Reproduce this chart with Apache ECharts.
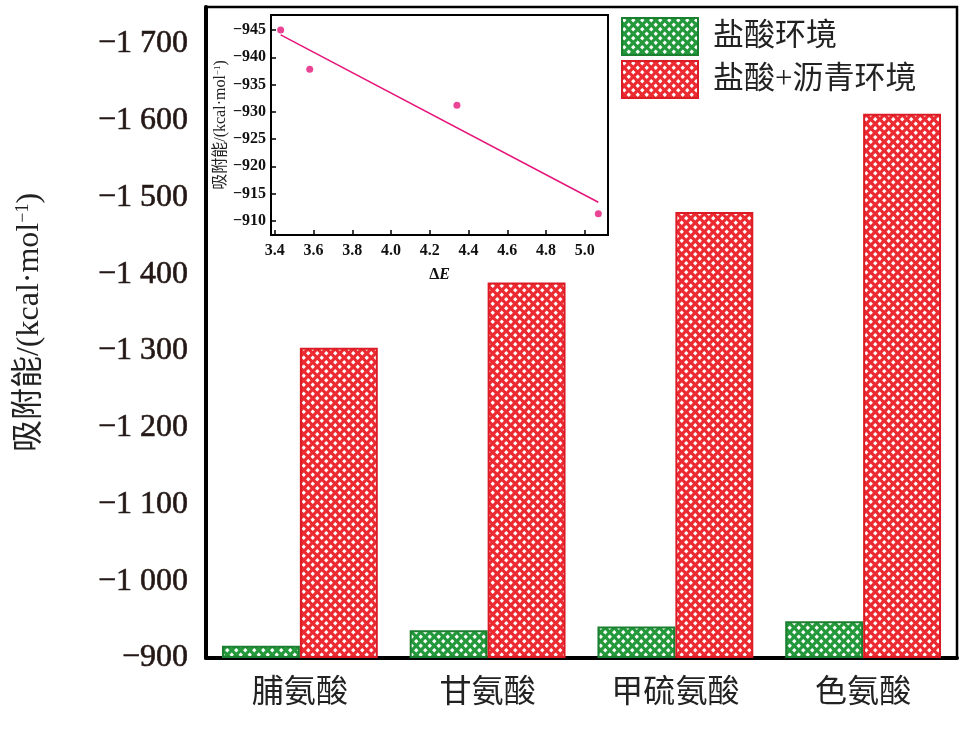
<!DOCTYPE html>
<html>
<head>
<meta charset="utf-8">
<script src="https://cdn.jsdelivr.net/npm/echarts@6/dist/echarts.min.js"></script>
<style>
html, body { margin: 0; padding: 0; background: #fff; }
#chart { width: 975px; height: 731px; }
</style>
</head>
<body>
<div id="chart"></div>
<script>
const categories = ['脯氨酸', '甘氨酸', '甲硫氨酸', '色氨酸'];
const legendNames = ['盐酸环境', '盐酸+沥青环境'];
const hclValues = [-916, -936, -941, -948];
const hclAsphaltValues = [-1304, -1389, -1481, -1609];
const yTicks = [-900, -1000, -1100, -1200, -1300, -1400, -1500, -1600, -1700];

// inset: adsorption energy vs ΔE
const insetPoints = [[3.43, -945.0], [3.58, -937.8], [4.34, -931.2], [5.07, -911.3]];
const insetFitLine = [[3.43, -944.1], [5.07, -913.4]];
const insetYTicks = [-945, -940, -935, -930, -925, -920, -915, -910];
const insetXTicks = [3.4, 3.6, 3.8, 4.0, 4.2, 4.4, 4.6, 4.8, 5.0];

const serif = '"Liberation Serif", "Noto Sans CJK SC", serif';

function makePattern(color) {
	const c = document.createElement('canvas');
	c.width = 9;
	c.height = 9;
	const ctx = c.getContext('2d');
	ctx.fillStyle = color;
	ctx.fillRect(0, 0, 9, 9);
	ctx.fillStyle = '#fff';
	[[2.25, 2.25], [6.75, 6.75]].forEach(([x, y]) => {
		ctx.beginPath();
		ctx.moveTo(x, y - 2.2);
		ctx.lineTo(x + 2.2, y);
		ctx.lineTo(x, y + 2.2);
		ctx.lineTo(x - 2.2, y);
		ctx.closePath();
		ctx.fill();
	});
	return c;
}

function fmtMain(v) {
	const a = Math.abs(v);
	if (a >= 1000) {
		return '−' + Math.floor(a / 1000) + ' ' + String(a % 1000).padStart(3, '0');
	}
	return '−' + a;
}

const chart = echarts.init(document.getElementById('chart'));

const option = {
	backgroundColor: '#fff',
	animation: false,
	legend: {
		orient: 'vertical',
		left: 616,
		top: 12,
		icon: 'rect',
		itemWidth: 76,
		itemHeight: 37,
		itemGap: 4,
		textStyle: { fontSize: 31, color: '#222', fontFamily: serif, padding: [0, 0, 0, 10] },
		data: legendNames
	},
	grid: [
		{ left: 206, right: 18, top: 7, bottom: 73, show: true, borderColor: '#000', borderWidth: 2.5 },
		{ left: 271, right: 367, top: 15, bottom: 496, show: true, borderColor: '#000', borderWidth: 2, backgroundColor: 'rgba(255,255,255,0)' }
	],
	xAxis: [
		{
			type: 'category',
			gridIndex: 0,
			data: categories,
			axisLine: { lineStyle: { color: '#000', width: 4 } },
			axisTick: { inside: true, alignWithLabel: true, length: 10, lineStyle: { color: '#000', width: 2 } },
			axisLabel: { fontSize: 32, color: '#222', fontFamily: serif, margin: 20 }
		},
		{
			type: 'value',
			gridIndex: 1,
			min: 3.38,
			max: 5.12,
			name: '{d|Δ}{e|E}',
			nameLocation: 'middle',
			nameGap: 32,
			nameTextStyle: {
				rich: {
					d: { fontSize: 16, fontWeight: 'bold', fontFamily: serif, color: '#111' },
					e: { fontSize: 16, fontWeight: 'bold', fontStyle: 'italic', fontFamily: serif, color: '#111' }
				}
			},
			splitLine: { show: false },
			axisLine: { onZero: false, lineStyle: { color: '#000', width: 2 } },
			axisTick: { inside: true, length: 5, customValues: insetXTicks, lineStyle: { color: '#000', width: 1.5 } },
			axisLabel: {
				customValues: insetXTicks,
				fontSize: 16, fontWeight: 'bold', color: '#111', fontFamily: serif, margin: 8,
				formatter: v => v.toFixed(1)
			}
		}
	],
	yAxis: [
		{
			type: 'value',
			gridIndex: 0,
			inverse: true,
			min: -1748,
			max: -900,
			startValue: -900,
			name: '吸附能/(kcal·mol{sup|−1})',
			nameLocation: 'middle',
			nameRotate: 90,
			nameGap: 160,
			nameTextStyle: {
				fontSize: 32, color: '#222', fontFamily: serif, padding: [0, 0, 0, 20],
				rich: { sup: { fontSize: 18, verticalAlign: 'top', color: '#222', fontFamily: serif } }
			},
			splitLine: { show: false },
			axisLine: { show: true, onZero: false, lineStyle: { color: '#000', width: 4 } },
			axisTick: { inside: true, length: 12, customValues: yTicks, lineStyle: { color: '#000', width: 2 } },
			axisLabel: {
				customValues: yTicks,
				fontSize: 32, color: '#231815', fontFamily: serif, margin: 18,
				textBorderColor: '#231815', textBorderWidth: 0.6,
				formatter: fmtMain
			}
		},
		{
			type: 'value',
			gridIndex: 1,
			inverse: true,
			min: -947.75,
			max: -907.4,
			name: '吸附能/(kcal·mol{sup|−1})',
			nameLocation: 'middle',
			nameRotate: 90,
			nameGap: 42,
			nameTextStyle: {
				fontSize: 16, color: '#222', fontFamily: serif,
				rich: { sup: { fontSize: 9, verticalAlign: 'top', color: '#222', fontFamily: serif } }
			},
			splitLine: { show: false },
			axisLine: { show: true, onZero: false, lineStyle: { color: '#000', width: 2 } },
			axisTick: { inside: true, length: 5, customValues: insetYTicks, lineStyle: { color: '#000', width: 1.5 } },
			axisLabel: {
				customValues: insetYTicks,
				fontSize: 16, fontWeight: 'bold', color: '#111', fontFamily: serif, margin: 5,
				formatter: v => '−' + Math.abs(v)
			}
		}
	],
	series: [
		{
			name: legendNames[0],
			type: 'bar',
			xAxisIndex: 0,
			yAxisIndex: 0,
			barWidth: '41.5%',
			barGap: '0%',
			data: hclValues,
			itemStyle: { color: { image: makePattern('#23993b'), repeat: 'repeat' }, borderColor: '#1b7f30', borderWidth: 2 }
		},
		{
			name: legendNames[1],
			type: 'bar',
			xAxisIndex: 0,
			yAxisIndex: 0,
			barWidth: '41.5%',
			barGap: '0%',
			data: hclAsphaltValues,
			itemStyle: { color: { image: makePattern('#ec2a32'), repeat: 'repeat' }, borderColor: '#dc1c25', borderWidth: 2 }
		},
		{
			type: 'scatter',
			xAxisIndex: 1,
			yAxisIndex: 1,
			symbolSize: 7,
			data: insetPoints,
			itemStyle: { color: '#e5157a' }
		},
		{
			type: 'line',
			xAxisIndex: 1,
			yAxisIndex: 1,
			showSymbol: false,
			data: insetFitLine,
			lineStyle: { color: '#e5157a', width: 1.5 }
		}
	]
};

chart.setOption(option);
</script>
</body>
</html>
